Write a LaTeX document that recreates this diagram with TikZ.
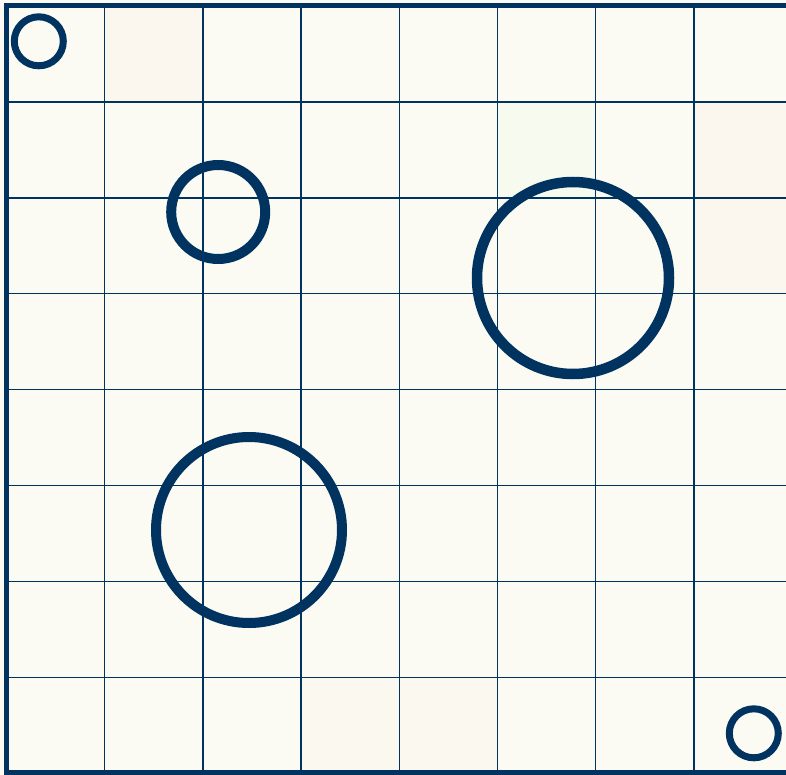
\documentclass[tikz,border=0pt]{standalone}
\definecolor{navy}{RGB}{0,51,96}
\definecolor{paper}{RGB}{251,251,243}
\tikzset{
  gridline/.style={draw=navy, line width=1.5bp},
  ring/.style={draw=navy},
}
\begin{document}
\begin{tikzpicture}[x=1bp,y=-1bp]
\useasboundingbox (0,0) rectangle (786,775);
\clip (0,0) rectangle (786,775);
\fill[paper] (0,0) rectangle (786,775);
% faint tiles
\fill[red!1.5!paper] (105,6) rectangle (203,101);
\fill[red!1.5!paper] (694,101) rectangle (792,293);
\fill[green!1.5!paper] (497,101) rectangle (596,197);
\fill[red!1!paper] (301,677) rectangle (497,772);
% grid
\foreach \k in {1,...,7} {
  \draw[gridline] ({6.5+\k*98.2},6) -- ({6.5+\k*98.2},772.5);
  \draw[gridline] (6.5,{6+\k*95.9}) -- (792,{6+\k*95.9});
}
% border
\draw[navy, line width=5bp] (792,6) -- (6.5,6) -- (6.5,772.5) -- (792,772.5);
% rings
\draw[ring, line width=7bp] (38.8,41.3) circle[radius=24.5];
\draw[ring, line width=7bp] (753.8,733.3) circle[radius=24.5];
\draw[ring, line width=10bp] (218.2,212) circle[radius=47];
\draw[ring, line width=10.5bp] (573,278) circle[radius=96];
\draw[ring, line width=10bp] (249,530) circle[radius=93];
\end{tikzpicture}
\end{document}
